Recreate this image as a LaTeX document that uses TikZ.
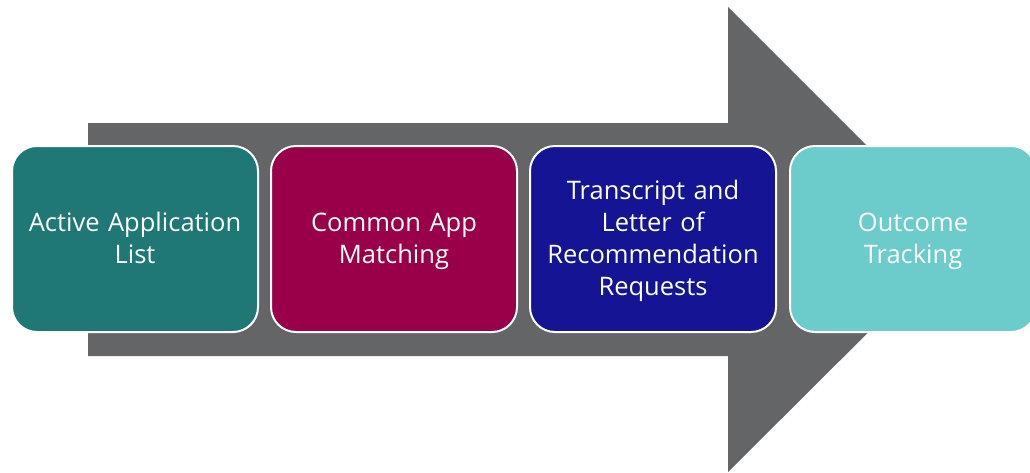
\documentclass[tikz,border=0pt]{standalone}
\usepackage{fontspec}
\setmainfont{Open Sans}
\definecolor{cteal}{HTML}{1F7876}
\definecolor{cmag}{HTML}{990049}
\definecolor{cnavy}{HTML}{141494}
\definecolor{clight}{HTML}{6CCBCB}
\definecolor{cgray}{HTML}{646567}
\tikzset{
  stepbox/.style={draw=white, line width=2pt, rounded corners=25pt, minimum width=246pt, minimum height=186pt, inner sep=0pt},
  steptext/.style={text=white, align=center, font=\fontsize{25.5}{32}\selectfont, text width=240pt, inner sep=0pt, yshift=-2pt},
}
\begin{document}
\begin{tikzpicture}[x=1pt,y=-1pt]
\useasboundingbox (0,0) rectangle (1030,472);
\clip (0,0) rectangle (1030,472);
\fill[cgray] (88,123) -- (728,123) -- (728,7) -- (961,240) -- (728,472) -- (728,356) -- (88,356) -- cycle;
\node[stepbox, fill=cteal] (s1) at (135,239) {};
\node[stepbox, fill=cmag] (s2) at (394,239) {};
\node[stepbox, fill=cnavy] (s3) at (653,239) {};
\node[stepbox, fill=clight] (s4) at (913,239) {};
\node[steptext] (t1) at (s1.center) {\strut Active Application\\List\strut};
\node[steptext] (t2) at (s2.center) {\strut Common App\\Matching\strut};
\node[steptext] (t3) at (s3.center) {\strut Transcript and\\Letter of\\Recommendation\\Requests\strut};
\node[steptext] (t4) at (s4.center) {\strut Outcome\\Tracking\strut};
\end{tikzpicture}
\end{document}
